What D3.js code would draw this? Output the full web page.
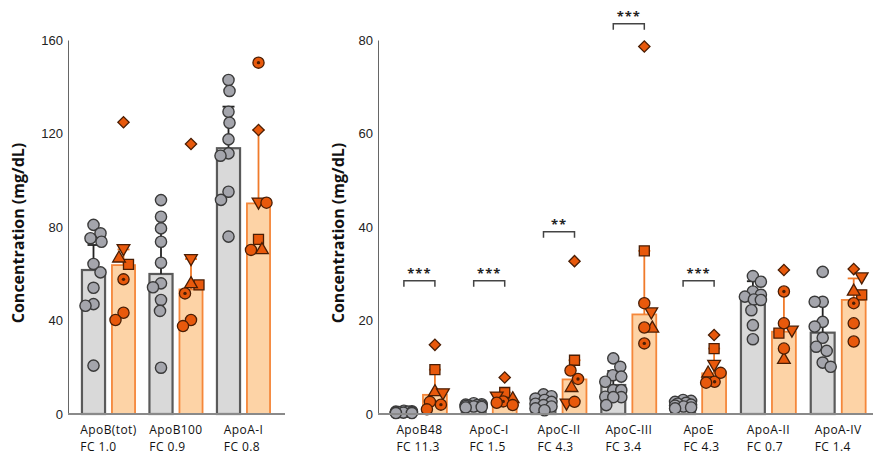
<!DOCTYPE html>
<html>
<head>
    <style>
        body {
            margin: 0;
            background: #ffffff;
            font-family: "Open Sans", "Noto Sans", sans-serif;
        }
        .tick text {
            font-size: 13px;
            fill: #222;
        }
        .domain {
            stroke: #666;
        }
        .axis-title {
            font-size: 16px;
            font-weight: 700;
            fill: #111;
        }
        .cat-label {
            font-size: 12px;
            letter-spacing: 0.4px;
            fill: #111;
        }
        .stars {
            font-size: 13px;
            font-weight: 700;
            fill: #222;
        }
    </style>
</head>
<body>
    <div id="chart"></div>
    <script src="https://cdnjs.cloudflare.com/ajax/libs/d3/7.8.5/d3.min.js"></script>
    <script>
        // patient marker order (same for every apolipoprotein)
        const shapeNames = ["diamond", "square", "triUp", "triDown", "dotCircle", "circle", "circle"];

        // ---- left panel ----
        const leftCats = ["ApoB(tot)", "ApoB100", "ApoA-I"];
        const leftFC = ["FC 1.0", "FC 0.9", "FC 0.8"];
        const leftTicks = [0, 40, 80, 120, 160];
        const leftCtrlMean = [61.6, 59.9, 113.7];
        const leftCtrlSD = [10.7, 19.0, 17.8];
        const leftPtMean = [63.7, 53.3, 90.1];
        const leftPtSD = [6.7, 13.0, 31.4];
        const leftCtrlPts = [
            [80.9, 77.3, 75.2, 73.7, 64.2, 60.6, 54.0, 47.0, 46.3, 20.7],
            [91.5, 84.4, 79.4, 73.7, 64.7, 55.9, 54.2, 48.8, 44.1, 19.8],
            [142.9, 138.2, 129.3, 124.6, 117.5, 111.5, 110.5, 95.1, 91.6, 75.9]
        ];
        const leftPtPts = [
            [124.8, 64.0, 66.6, 70.9, 57.6, 43.3, 40.2],
            [115.5, 55.2, 55.6, 66.6, 51.6, 40.2, 37.6],
            [121.5, 74.7, 70.2, 90.8, 150.3, 90.4, 70.2]
        ];

        // ---- right panel ----
        const rightCats = ["ApoB48", "ApoC-I", "ApoC-II", "ApoC-III", "ApoE", "ApoA-II", "ApoA-IV"];
        const rightFC = ["FC 11.3", "FC 1.5", "FC 4.3", "FC 3.4", "FC 4.3", "FC 0.7", "FC 1.4"];
        const rightTicks = [0, 20, 40, 60, 80];
        const rightCtrlMean = [0.4, 1.8, 2.3, 6.2, 2.0, 24.4, 17.4];
        const rightCtrlSD = [0.2, 0.3, 1.1, 3.0, 0.6, 4.0, 6.6];
        const rightPtMean = [4.1, 2.8, 7.4, 21.3, 8.7, 17.6, 24.4];
        const rightPtSD = [5.4, 1.8, 4.1, 13.6, 5.3, 8.6, 4.6];
        const rightCtrlPts = [
            [0.7, 0.6, 0.5, 0.5, 0.4, 0.4, 0.3, 0.3, 0.2, 0.2],
            [2.3, 2.1, 2.0, 1.9, 1.8, 1.8, 1.7, 1.6, 1.5, 1.4],
            [4.2, 3.8, 3.3, 3.0, 2.6, 2.2, 1.9, 1.6, 1.2, 0.8],
            [11.9, 10.1, 8.3, 8.0, 6.9, 5.1, 5.1, 3.7, 3.6, 3.6, 1.9],
            [3.0, 2.8, 2.6, 2.4, 2.2, 2.0, 1.8, 1.6, 1.4, 1.2],
            [29.5, 28.3, 26.2, 25.5, 25.1, 24.5, 24.4, 22.2, 19.0, 16.0],
            [30.4, 24.0, 24.0, 19.7, 18.7, 16.3, 14.4, 13.5, 11.0, 10.1]
        ];
        const rightPtPts = [
            [14.8, 9.5, 4.7, 4.6, 2.0, 2.6, 1.0],
            [7.8, 4.6, 3.2, 3.9, 2.7, 2.4, 1.9],
            [32.7, 11.5, 5.6, 2.4, 7.5, 9.3, 2.6],
            [78.6, 34.9, 18.3, 21.9, 15.1, 23.7, 18.5],
            [16.9, 14.0, 8.7, 10.7, 6.9, 8.8, 6.7],
            [30.8, 17.3, 11.6, 18.0, 26.2, 19.4, 14.0],
            [31.0, 25.5, 26.2, 29.4, 23.7, 19.4, 15.5]
        ];
        // significance brackets (category, label, height in mg/dL)
        const sigCats = ["ApoB48", "ApoC-I", "ApoC-II", "ApoC-III", "ApoE"];
        const sigLabels = ["***", "***", "**", "***", "***"];
        const sigLevels = [28.5, 28.5, 39, 83.5, 28.5];

        const W = 873, H = 455;
        const R = 5.6;
        const greyFill = "#d9d9d9", greyStroke = "#5a5a5a";
        const peachFill = "#fdd3a6", peachStroke = "#f5873a";
        const dotGrey = "#a4a5ac", dotGreyStroke = "#3a3a3a";
        const dotOrange = "#e8590c", dotOrangeStroke = "#4a1e05";

        const svg = d3.select("#chart")
            .append("svg")
            .attr("width", W)
            .attr("height", H);

        // pack points sideways so they overlap as little as possible
        function swarm(vals, y, cx, r) {
            const order = vals.map((v, i) => i).sort((a, b) => vals[b] - vals[a]);
            const placed = [];
            const xs = new Array(vals.length);
            order.forEach((i, k) => {
                const py = y(vals[i]);
                let best = 0, bestCost = Infinity;
                const sgn = k % 2 ? 1 : -1;
                for (let s = 0; s <= 8; s += 0.5) {
                    for (const dx of (s === 0 ? [0] : [sgn * s, -sgn * s])) {
                        let cost = 0.015 * dx * dx;
                        placed.forEach(p => {
                            const d = Math.hypot(p.x - dx, p.y - py);
                            if (d < 2 * r) cost += (2 * r - d) ** 2;
                        });
                        if (cost < bestCost - 1e-9) { bestCost = cost; best = dx; }
                    }
                }
                placed.push({ x: best, y: py });
                xs[i] = cx + best;
            });
            return xs;
        }

        function drawMarker(g, shape, x, y) {
            const fill = dotOrange, stroke = dotOrangeStroke;
            if (shape === "circle" || shape === "dotCircle") {
                g.append("circle").attr("cx", x).attr("cy", y).attr("r", R)
                    .attr("fill", fill).attr("stroke", stroke).attr("stroke-width", 1.3);
                if (shape === "dotCircle") {
                    g.append("circle").attr("cx", x).attr("cy", y).attr("r", 1.7)
                        .attr("fill", stroke);
                }
                return;
            }
            let sym = d3.symbolSquare, size = 100, rot = 0;
            if (shape === "diamond") { size = 64; rot = 45; }
            if (shape === "triUp") { sym = d3.symbolTriangle; size = 70; }
            if (shape === "triDown") { sym = d3.symbolTriangle; size = 70; rot = 180; }
            g.append("path")
                .attr("d", d3.symbol(sym, size)())
                .attr("transform", `translate(${x},${y}) rotate(${rot})`)
                .attr("fill", fill).attr("stroke", stroke).attr("stroke-width", 1.3);
        }

        function drawPanel(p) {
            const g = svg.append("g");
            const y = d3.scaleLinear().domain([0, p.yMax]).range([414, 40]);
            const x = d3.scaleBand().domain(p.cats).range(p.xRange).padding(0);
            const xi = d3.scaleBand().domain(["ctrl", "pt"]).range([0, x.bandwidth()])
                .paddingInner(0.23).paddingOuter(0.24);
            const bw = xi.bandwidth();

            // y axis
            g.append("g")
                .attr("transform", `translate(${p.axisX0},0)`)
                .call(d3.axisLeft(y).tickValues(p.ticks).tickSize(0).tickSizeOuter(0).tickPadding(5));

            // bars
            p.cats.forEach((c, i) => {
                const gx = x(c);
                g.append("rect")
                    .attr("x", gx + xi("ctrl")).attr("y", y(p.ctrlMean[i]))
                    .attr("width", bw).attr("height", y(0) - y(p.ctrlMean[i]))
                    .attr("fill", greyFill).attr("stroke", greyStroke).attr("stroke-width", 2.2);
                g.append("rect")
                    .attr("x", gx + xi("pt")).attr("y", y(p.ptMean[i]))
                    .attr("width", bw).attr("height", y(0) - y(p.ptMean[i]))
                    .attr("fill", peachFill).attr("stroke", peachStroke).attr("stroke-width", 1.8);
            });

            // upper error bars
            p.cats.forEach((c, i) => {
                const gx = x(c);
                [["ctrl", p.ctrlMean[i], p.ctrlSD[i], "#222"], ["pt", p.ptMean[i], p.ptSD[i], "#f07a2a"]]
                    .forEach(([k, m, sd, col]) => {
                        const cx = gx + xi(k) + bw / 2;
                        g.append("line").attr("x1", cx).attr("x2", cx)
                            .attr("y1", y(m)).attr("y2", y(m + sd))
                            .attr("stroke", col).attr("stroke-width", 1.8);
                        g.append("line").attr("x1", cx - 6).attr("x2", cx + 6)
                            .attr("y1", y(m + sd)).attr("y2", y(m + sd))
                            .attr("stroke", col).attr("stroke-width", 1.8);
                    });
            });

            // points
            p.cats.forEach((c, i) => {
                const gx = x(c);
                const cxC = gx + xi("ctrl") + bw / 2;
                const xsC = swarm(p.ctrlPts[i], y, cxC, R);
                p.ctrlPts[i].forEach((v, j) => {
                    g.append("circle").attr("cx", xsC[j]).attr("cy", y(v)).attr("r", R)
                        .attr("fill", dotGrey).attr("stroke", dotGreyStroke).attr("stroke-width", 1.4);
                });
                const cxP = gx + xi("pt") + bw / 2;
                const xsP = swarm(p.ptPts[i], y, cxP, R);
                p.ptPts[i].forEach((v, j) => drawMarker(g, shapeNames[j], xsP[j], y(v)));
            });

            // x axis line
            g.append("line")
                .attr("x1", p.axisX0).attr("x2", p.axisX1)
                .attr("y1", y(0)).attr("y2", y(0))
                .attr("stroke", "#8a8a8a").attr("stroke-width", 2);

            // category labels: first line centred, second line aligned to its start
            p.cats.forEach((c, i) => {
                const cx = x(c) + x.bandwidth() / 2;
                const t = g.append("text").attr("class", "cat-label")
                    .attr("x", cx).attr("y", 434).attr("text-anchor", "middle").text(c);
                const left = t.node().getBBox().x;
                g.append("text").attr("class", "cat-label")
                    .attr("x", left).attr("y", 451).text(p.fc[i]);
            });

            // significance brackets
            if (p.sig) {
                p.sig.cats.forEach((c, i) => {
                    const x1 = x(c) + xi("ctrl") + bw / 2;
                    const x2 = x(c) + xi("pt") + bw / 2;
                    const yy = y(p.sig.levels[i]);
                    g.append("path")
                        .attr("d", `M${x1},${yy + 6}V${yy}H${x2}V${yy + 6}`)
                        .attr("fill", "none").attr("stroke", "#444").attr("stroke-width", 1.5);
                    g.append("text").attr("class", "stars")
                        .attr("x", (x1 + x2) / 2).attr("y", yy - 3)
                        .attr("text-anchor", "middle").attr("letter-spacing", 1)
                        .text(p.sig.labels[i]);
                });
            }

            // y axis title
            g.append("text").attr("class", "axis-title")
                .attr("transform", `translate(${p.titleX},233) rotate(-90)`)
                .attr("text-anchor", "middle")
                .text("Concentration (mg/dL)");
        }

        drawPanel({
            cats: leftCats, fc: leftFC, ticks: leftTicks, yMax: 160,
            ctrlMean: leftCtrlMean, ctrlSD: leftCtrlSD, ctrlPts: leftCtrlPts,
            ptMean: leftPtMean, ptSD: leftPtSD, ptPts: leftPtPts,
            xRange: [74.75, 277.25], axisX0: 68, axisX1: 285, titleX: 24
        });

        drawPanel({
            cats: rightCats, fc: rightFC, ticks: rightTicks, yMax: 80,
            ctrlMean: rightCtrlMean, ctrlSD: rightCtrlSD, ctrlPts: rightCtrlPts,
            ptMean: rightPtMean, ptSD: rightPtSD, ptPts: rightPtPts,
            xRange: [384.5, 873.1], axisX0: 378, axisX1: 873, titleX: 344,
            sig: { cats: sigCats, labels: sigLabels, levels: sigLevels }
        });
    </script>
</body>
</html>
